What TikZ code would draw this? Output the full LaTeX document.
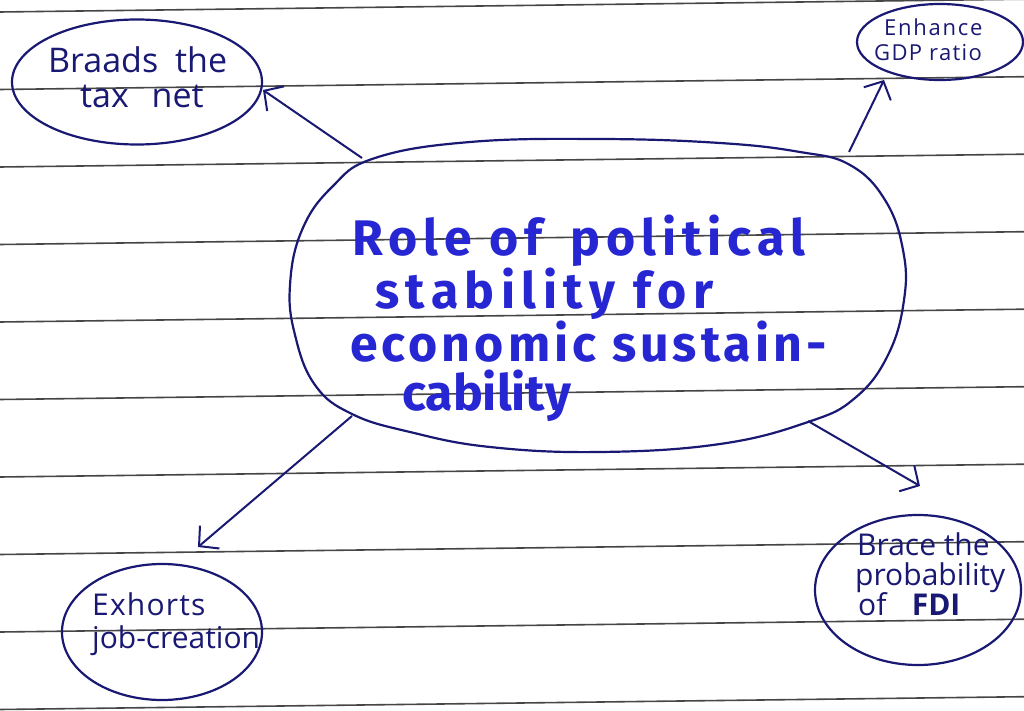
\documentclass[tikz,border=0pt]{standalone}
\usepackage{fontspec}
\setmainfont{Open Sans}
\newfontfamily\markerfont{Fira Sans}
\usetikzlibrary{shapes.geometric,arrows.meta}
\definecolor{ink}{RGB}{25,25,115}
\definecolor{marker}{RGB}{38,38,210}
\definecolor{rule}{RGB}{70,70,70}
\begin{document}
\begin{tikzpicture}[x=1pt,y=-1pt,
  bubble/.style={draw=ink, line width=2.2pt, ellipse, inner sep=0pt},
  note/.style={text=ink, anchor=base west, inner sep=0pt},
  big/.style={text=marker, anchor=base west, inner sep=0pt, font=\markerfont\bfseries\fontsize{50}{56}\selectfont},
  arr/.style={draw=ink, line width=2pt, -{Straight Barb[length=14pt,width=30pt,line width=2pt]}},
  paper/.style={draw=rule, line width=1.6pt}]
\useasboundingbox (0,0) rectangle (1024,711);
\fill[white] (0,0) rectangle (1024,711);
% ruled paper
\foreach \y in {12,89.5,167,244.5,322,399.5,477,554.5,632,709.5}
  \draw[paper] (0,\y) -- (1024,\y-12.8);

% central outline
\draw[ink, line width=2.2pt] plot[smooth cycle, tension=0.7] coordinates {
 (600,139) (720,143) (800,152) (850,165) (885,200) (903,250) (904,300)
 (888,355) (855,398) (808,422) (720,444) (600,452) (490,447) (410,432)
 (352,414) (315,385) (295,335) (290,285) (302,230) (332,187) (375,158) (470,142)};
\coordinate (cnw) at (362,158);
\coordinate (cne) at (849,152);
\coordinate (csw) at (352,416);
\coordinate (cse) at (808,421);

% central text
\node[big] (c1) at (352,255) {\addfontfeatures{LetterSpace=12}Role of\hspace{10pt} political};
\node[big] (c2) at (375,308) {\addfontfeatures{LetterSpace=13}stability for};
\node[big] (c3) at (350,361) {\addfontfeatures{LetterSpace=8}economic sustain-};
\node[big] (c4) at (402,410) {\addfontfeatures{LetterSpace=0}cability};

% outer bubbles
\node[bubble, minimum width=250pt, minimum height=125pt] (b) at (137,82) {};
\node[bubble, minimum width=166pt, minimum height=76pt] (e) at (940,42) {};
\node[bubble, minimum width=200pt, minimum height=136pt] (x) at (162,632) {};
\node[bubble, minimum width=206pt, minimum height=150pt] (f) at (918,590) {};

% bubble texts
\node[note, font=\fontsize{34}{40}\selectfont] (b1) at (48,73) {Braads\hspace{8pt} the};
\node[note, font=\fontsize{34}{40}\selectfont] (b2) at (80,108) {tax\hspace{14pt} net};
\node[note, font=\fontsize{22}{24}\selectfont] (e1) at (884,36) {\addfontfeatures{LetterSpace=8}Enhance};
\node[note, font=\fontsize{22}{24}\selectfont] (e2) at (874,61) {\addfontfeatures{LetterSpace=6}GDP ratio};
\node[note, font=\fontsize{30}{34}\selectfont] (x1) at (92,615) {\addfontfeatures{LetterSpace=4}Exhorts};
\node[note, font=\fontsize{30}{34}\selectfont] (x2) at (92,648) {job-creation};
\node[note, font=\fontsize{30}{34}\selectfont] (f1) at (857,555) {Brace the};
\node[note, font=\fontsize{30}{34}\selectfont] (f2) at (855,585) {probability};
\node[note, font=\fontsize{30}{34}\selectfont] (f3) at (858,615) {of\hspace{24pt}\textbf{FDI}};

% arrow tips
\coordinate (btip) at (263,90);
\coordinate (etip) at (884,80);
\coordinate (xtip) at (198,547);
\coordinate (ftip) at (920,486);

\draw[arr] (cnw) -- (btip);
\draw[arr] (cne) -- (etip);
\draw[arr] (csw) -- (xtip);
\draw[arr] (cse) -- (ftip);
\end{tikzpicture}
\end{document}
